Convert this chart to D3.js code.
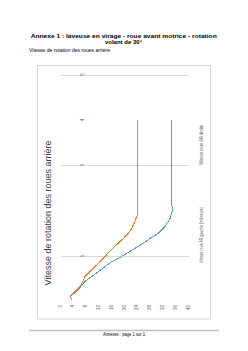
<!DOCTYPE html>
<html><head><meta charset="utf-8">
<script src="https://cdn.jsdelivr.net/npm/d3@7"></script>
<style>html,body{margin:0;padding:0;background:#fff;}svg{display:block;font-family:"Liberation Sans",Arial,sans-serif;}</style>
</head><body>
<script>
// ---- data ----
const speedTicks = [0,4,8,12,16,20,24,28,32,36,40];
const timeGrid = [1,3,5];
const timeLabels = [1,3,4,5];
const seriesNames = ["Vitesse roue AR gauche (intérieure)", "Vitesse roue AR droite"];
const blueT = [0.11,0.17,0.22,0.31,0.40,0.47,0.55,0.66,0.77,0.88,0.97,1.06,1.17,1.28,1.39,1.50,1.65,1.83,2.02,2.16,4.0];
const blueV = [3.1,4.2,5.2,6.25,7.3,8.3,9.9,12.0,14.1,16.2,18.75,20.8,23.4,26.0,28.1,30.7,32.8,34.4,35.2,34.9,34.8];
const orangeT = [0.03,0.11,0.18,0.24,0.29,0.36,0.47,0.55,0.62,0.73,0.84,0.95,1.07,1.19,1.28,1.39,1.50,1.61,1.76,1.91,2.16,4.0];
const orangeV = [3.66,3.34,3.97,5.0,5.7,6.5,7.3,7.8,8.8,10.4,12.0,13.5,15.1,16.7,18.2,19.8,21.3,22.4,23.4,24.2,24.2,24.2];

const W=248,H=351;
const svg=d3.select("body").append("svg").attr("width",W).attr("height",H);

// header
svg.append("text").attr("x",30.7).attr("y",37.5).attr("font-size",6).attr("font-weight","bold")
  .attr("textLength",186).attr("lengthAdjust","spacingAndGlyphs").attr("fill","#000")
  .text("Annexe 1 : laveuse en virage - roue avant motrice - rotation");
svg.append("text").attr("x",123.5).attr("y",43.5).attr("font-size",6).attr("font-weight","bold")
  .attr("text-anchor","middle").attr("fill","#000").text("volant de 30°");
svg.append("text").attr("x",29).attr("y",52).attr("font-size",4.5).attr("fill","#000")
  .attr("textLength",81).attr("lengthAdjust","spacingAndGlyphs")
  .text("Vitesse de rotation des roues arrière");

// chart box
svg.append("rect").attr("x",37.5).attr("y",65.5).attr("width",173).attr("height",253.5)
  .attr("fill","none").attr("stroke","#d9d9d9").attr("stroke-width",1);

const x=d3.scaleLinear().domain([0,40]).range([60,188]);
const y=d3.scaleLinear().domain([0,5]).range([301.5,74.5]);

// gridlines
svg.append("g").selectAll("line").data(timeGrid).join("line")
  .attr("x1",61).attr("x2",189).attr("y1",d=>Math.round(y(d))+0.5).attr("y2",d=>Math.round(y(d))+0.5)
  .attr("stroke","#d9d9d9").attr("stroke-width",1);

// time labels (rotated)
svg.append("g").selectAll("text").data(timeLabels).join("text")
  .attr("transform",d=>`translate(83.5,${y(d)}) rotate(-90)`)
  .attr("text-anchor","middle").attr("font-size",4.5).attr("fill","#595959").text(d=>d);

// speed labels (rotated)
svg.append("g").selectAll("text").data(speedTicks).join("text")
  .attr("transform",d=>`translate(${x(d)+1.5},305) rotate(-90)`)
  .attr("text-anchor","end").attr("font-size",4.5).attr("fill","#595959").text(d=>d);

// lines
const line=d3.line().x(d=>x(d[1])).y(d=>y(d[0]));
svg.append("path").datum(d3.zip(blueT,blueV)).attr("d",line)
  .attr("fill","none").attr("stroke","#5B9BD5").attr("stroke-width",1).attr("shape-rendering","crispEdges");
svg.append("path").datum(d3.zip(orangeT,orangeV)).attr("d",line)
  .attr("fill","none").attr("stroke","#ED7D31").attr("stroke-width",1).attr("shape-rendering","crispEdges");

// big rotated title
svg.append("text").attr("transform","translate(51,213) rotate(-90)")
  .attr("text-anchor","middle").attr("font-size",9).attr("fill","#404040")
  .text("Vitesse de rotation des roues arrière");

// legend (rotated)
svg.append("text").attr("transform","translate(203,263) rotate(-90)")
  .attr("font-size",4.5).attr("fill","#595959").attr("textLength",56).attr("lengthAdjust","spacingAndGlyphs")
  .text(seriesNames[0]);
svg.append("text").attr("transform","translate(203,165) rotate(-90)")
  .attr("font-size",4.5).attr("fill","#595959").attr("textLength",40).attr("lengthAdjust","spacingAndGlyphs")
  .text(seriesNames[1]);

// footer
svg.append("line").attr("x1",28.7).attr("x2",219.3).attr("y1",330.5).attr("y2",330.5)
  .attr("stroke","#bfbfbf").attr("stroke-width",1.5);
svg.append("text").attr("x",124).attr("y",335.8).attr("font-size",4.5).attr("text-anchor","middle")
  .attr("fill","#000").attr("textLength",42).attr("lengthAdjust","spacingAndGlyphs")
  .text("Annexes : page 1 sur 1");
</script>
</body></html>
